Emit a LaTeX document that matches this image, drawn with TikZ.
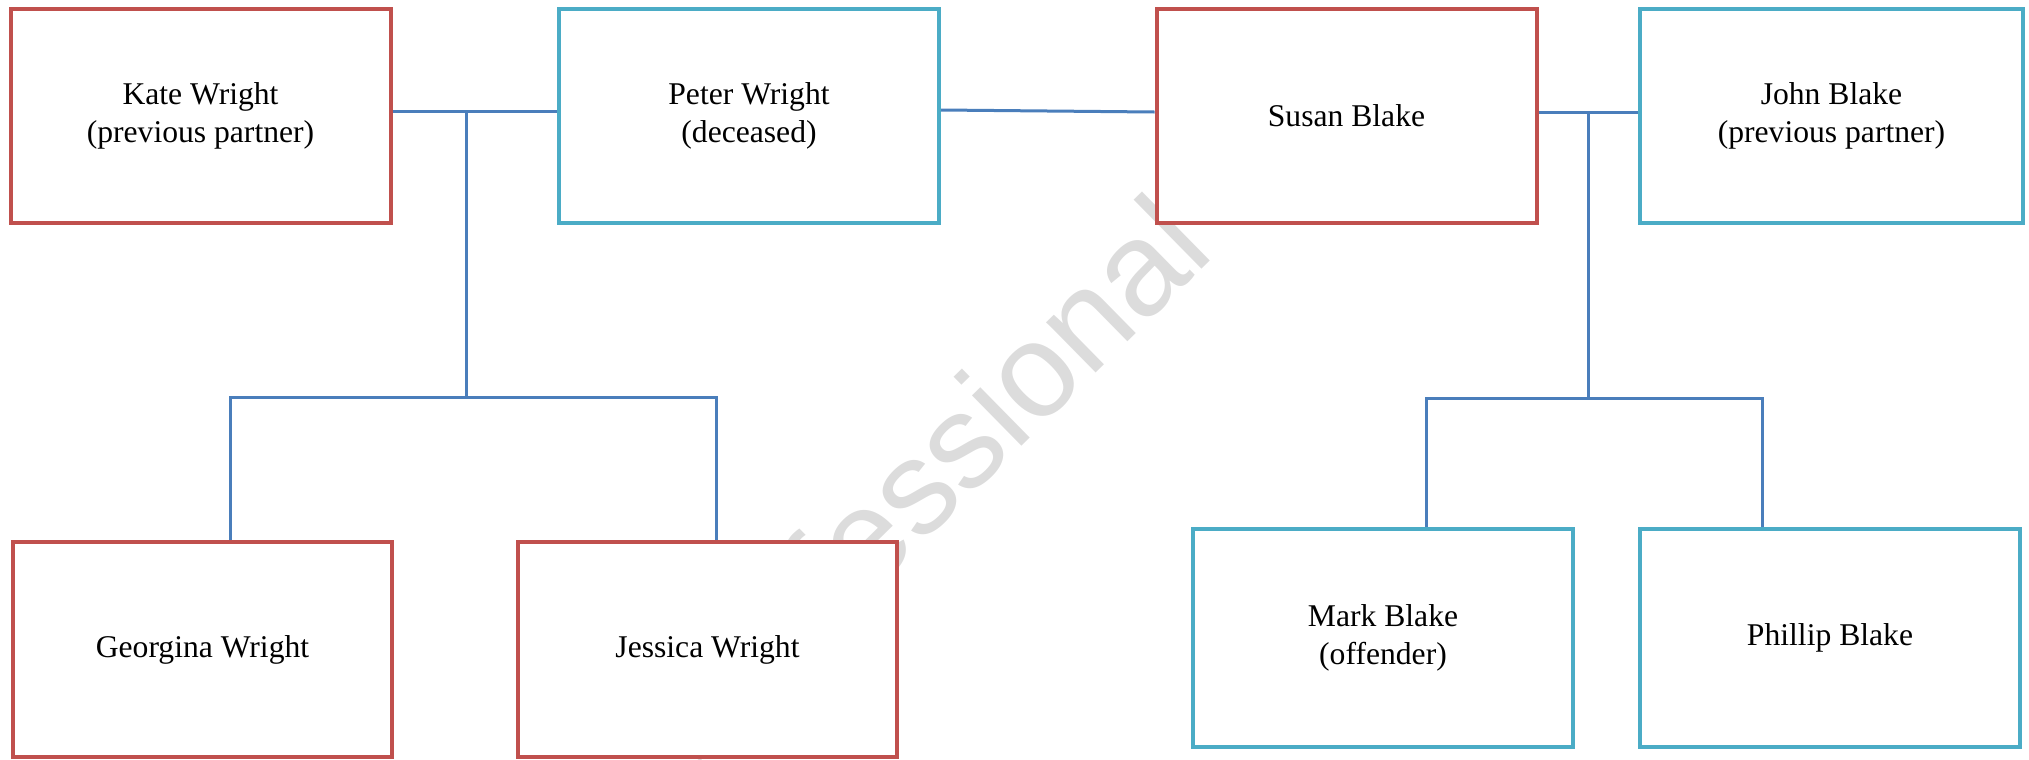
\documentclass[tikz,border=0pt]{standalone}
\usepackage{fontspec}
\setmainfont{Liberation Serif}
\newfontfamily\wmfont{Liberation Sans}
\usepackage{xcolor}
\usepackage{tikz}
\usetikzlibrary{positioning}

\definecolor{femred}{HTML}{C0504D}
\definecolor{malecyan}{HTML}{4BACC6}
\definecolor{linkblue}{HTML}{4A7EBB}
\definecolor{wmgray}{HTML}{DCDCDC}

\begin{document}
\begin{tikzpicture}[
    person/.style={draw, fill=white, line width=0.04cm, minimum width=3.8cm, minimum height=2.14cm, font=\fontsize{9}{10.8}\selectfont, align=center, inner sep=0pt},
    female/.style={person, draw=femred},
    male/.style={person, draw=malecyan},
    link/.style={draw=linkblue, line width=0.03cm}
]
    \useasboundingbox (0,0) rectangle (20.29,-7.59);

    % Watermark
    \node[font=\wmfont\fontsize{38}{38}\selectfont, text=wmgray, rotate=44.5, anchor=base west, inner sep=0pt] (wm) at (6.92,-7.70) {Professional};

    % Top row
    \node[female] (kate) at (2.005,-1.16) {Kate Wright\\(previous partner)};
    \node[male] (peter) at (7.49,-1.16) {Peter Wright\\(deceased)};
    \node[female] (susan) at (13.465,-1.16) {Susan Blake};
    \node[male, minimum width=3.83cm] (john) at (18.315,-1.16) {John Blake\\(previous partner)};

    % Children
    \node[female, minimum width=3.79cm, minimum height=2.15cm] (georgina) at (2.025,-6.495) {Georgina Wright};
    \node[female, minimum width=3.79cm, minimum height=2.15cm] (jessica) at (7.075,-6.495) {Jessica Wright};
    \node[male, minimum height=2.18cm] (mark) at (13.83,-6.38) {Mark Blake\\(offender)};
    \node[male, minimum height=2.18cm] (phillip) at (18.30,-6.38) {Phillip Blake};

    % Couples
    \coordinate (kp) at (4.66,-1.11);
    \coordinate (kpbar) at (4.66,-3.97);
    \coordinate (sj) at (15.88,-1.12);
    \coordinate (sjbar) at (15.88,-3.98);

    \draw[link] ([yshift=0.05cm]kate.east) -- ([yshift=0.05cm]peter.west);
    \draw[link] ([yshift=0.06cm]peter.east) -- ([yshift=0.04cm]susan.west);
    \draw[link] ([yshift=0.04cm]susan.east) -- ([yshift=0.04cm]john.west);

    % Children lines
    \draw[link] (kp) -- (kpbar);
    \draw[link] ([xshift=0.275cm]georgina.north) |- (kpbar) -| ([xshift=0.085cm]jessica.north);
    \draw[link] (sj) -- (sjbar);
    \draw[link] ([xshift=0.43cm]mark.north) |- (sjbar) -| ([xshift=-0.68cm]phillip.north);
\end{tikzpicture}
\end{document}
